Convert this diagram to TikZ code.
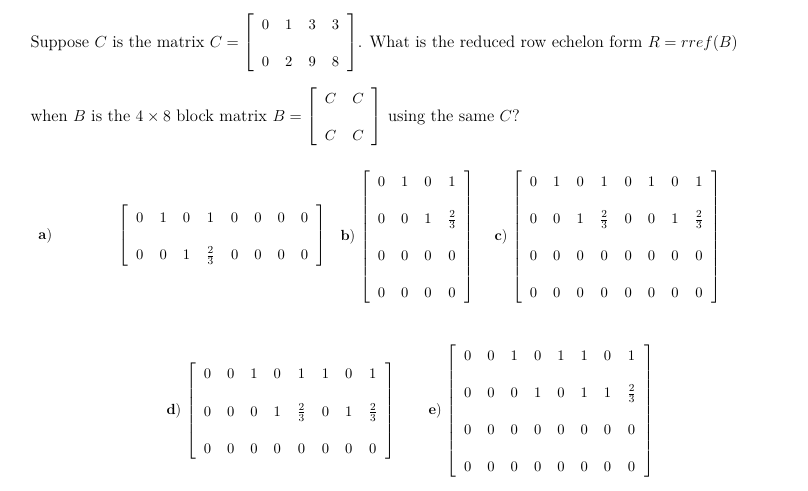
\documentclass[tikz,border=0pt]{standalone}
\usepackage{amsmath}
\tikzset{every picture/.style={line width=0.75pt}}
\tikzset{optlabel/.style={anchor=west,inner sep=0pt,font=\fontsize{11}{13.5}\selectfont}}
\tikzset{qtext/.style={anchor=west,inner sep=0pt,font=\fontsize{12.5}{15}\selectfont}}
\newcommand{\rmat}[2]{\left[\renewcommand\arraystretch{1.4}\setlength\arraycolsep{6pt}\begin{array}{#1}#2\end{array}\right]}
\newcommand{\gp}{\\[9pt]}
\begin{document}
\begin{tikzpicture}[x=0.75pt,y=0.75pt,yscale=-1,xscale=1]
	\useasboundingbox (0,0) rectangle (808,490);
	
	% Text Node
	\node[qtext] (qline1) at (30,43) {Suppose $C$ is the matrix $C=\fontsize{11}{13.5}\selectfont\rmat{cccc}{0&1&3&3\gp0&2&9&8}$. What is the reduced row echelon form $R=rref(B)$};
	% Text Node
	\node[qtext] (qline2) at (30,117) {when $B$ is the $4\times 8$ block matrix $B=\fontsize{11}{13.5}\selectfont\rmat{cc}{C&C\gp C&C}$ using the same $C$?};
	
	% Text Node
	\node[optlabel] (labA) at (38,236) {\textbf{a})};
	\node[optlabel] (optA) at (118,236) {$\rmat{cccccccc}{0&1&0&1&0&0&0&0\gp0&0&1&\frac{2}{3}&0&0&0&0}$};
	% Text Node
	\node[optlabel] (optB) at (340,237) {\textbf{b}) $\rmat{cccc}{0&1&0&1\gp0&0&1&\frac{2}{3}\gp0&0&0&0\gp0&0&0&0}$};
	% Text Node
	\node[optlabel] (optC) at (494,237) {\textbf{c}) $\rmat{cccccccc}{0&1&0&1&0&1&0&1\gp0&0&1&\frac{2}{3}&0&0&1&\frac{2}{3}\gp0&0&0&0&0&0&0&0\gp0&0&0&0&0&0&0&0}$};
	% Text Node
	\node[optlabel] (optD) at (166,411) {\textbf{d}) $\rmat{cccccccc}{0&0&1&0&1&1&0&1\gp0&0&0&1&\frac{2}{3}&0&1&\frac{2}{3}\gp0&0&0&0&0&0&0&0}$};
	% Text Node
	\node[optlabel] (optE) at (428,411) {\textbf{e}) $\rmat{cccccccc}{0&0&1&0&1&1&0&1\gp0&0&0&1&0&1&1&\frac{2}{3}\gp0&0&0&0&0&0&0&0\gp0&0&0&0&0&0&0&0}$};
	
\end{tikzpicture}
\end{document}
